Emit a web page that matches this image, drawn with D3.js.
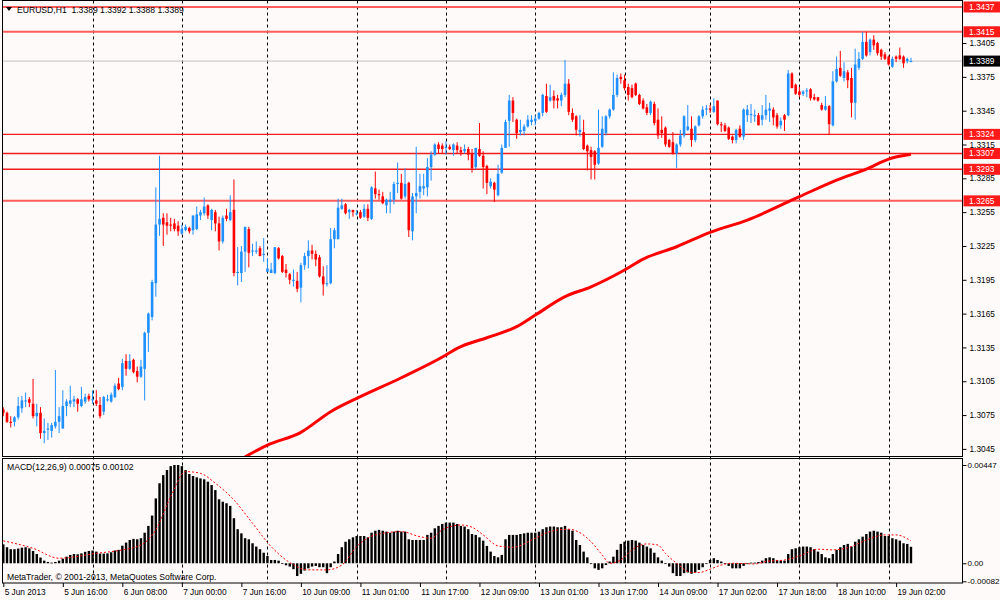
<!doctype html>
<html>
<head>
<meta charset="utf-8">
<script src="https://cdn.jsdelivr.net/npm/d3@7/dist/d3.min.js"></script>
<style>
  body { margin: 0; background: #fffafa; }
  svg { display: block; font-family: "Liberation Sans", Arial, sans-serif; }
</style>
</head>
<body>
<svg width="1000" height="600"></svg>
<script>
// EURUSD H1, bar 0 = 5 Jun 2013 00:00
var opens = [
  1.3080,1.3077,1.3069,1.3069,1.3073,1.3081,1.3087,1.3089,1.3085,1.3074,
  1.3077,1.3059,1.3062,1.3061,1.3065,1.3069,1.3063,1.3083,1.3085,1.3087,
  1.3089,1.3083,1.3087,1.3092,1.3088,1.3088,1.3084,1.3078,1.3088,1.3087,
  1.3091,1.3103,1.3100,1.3123,1.3116,1.3124,1.3114,1.3109,1.3116,1.3148,
  1.3162,1.3192,1.3244,1.3250,1.3246,1.3244,1.3245,1.3243,1.3236,1.3239,
  1.3241,1.3239,1.3240,1.3252,1.3254,1.3261,1.3248,1.3255,1.3245,1.3229,
  1.3252,1.3248,1.3257,1.3201,1.3201,1.3220,1.3240,1.3220,1.3220,1.3223,
  1.3217,1.3202,1.3201,1.3201,1.3223,1.3216,1.3204,1.3200,1.3194,1.3194,
  1.3188,1.3208,1.3216,1.3221,1.3218,1.3215,1.3198,1.3191,1.3192,1.3231,
  1.3231,1.3258,1.3262,1.3255,1.3257,1.3253,1.3255,1.3251,1.3258,1.3249,
  1.3276,1.3271,1.3269,1.3261,1.3264,1.3266,1.3280,1.3281,1.3269,1.3281,
  1.3238,1.3269,1.3273,1.3276,1.3277,1.3295,1.3306,1.3315,1.3314,1.3312,
  1.3313,1.3310,1.3314,1.3310,1.3309,1.3311,1.3307,1.3295,1.3311,1.3305,
  1.3296,1.3278,1.3281,1.3270,1.3290,1.3312,1.3336,1.3354,1.3337,1.3326,
  1.3327,1.3331,1.3335,1.3336,1.3338,1.3343,1.3358,1.3354,1.3358,1.3356,
  1.3354,1.3359,1.3369,1.3343,1.3340,1.3326,1.3326,1.3314,1.3310,1.3309,
  1.3298,1.3313,1.3325,1.3340,1.3346,1.3359,1.3375,1.3372,1.3366,1.3365,
  1.3369,1.3359,1.3354,1.3348,1.3343,1.3351,1.3337,1.3328,1.3330,1.3319,
  1.3317,1.3307,1.3315,1.3323,1.3328,1.3329,1.3319,1.3332,1.3340,1.3346,
  1.3347,1.3344,1.3354,1.3333,1.3332,1.3330,1.3322,1.3319,1.3329,1.3322,
  1.3341,1.3341,1.3340,1.3341,1.3337,1.3341,1.3345,1.3346,1.3341,1.3332,
  1.3341,1.3341,1.3378,1.3368,1.3362,1.3360,1.3362,1.3364,1.3357,1.3357,
  1.3350,1.3346,1.3349,1.3332,1.3371,1.3383,1.3374,1.3379,1.3374,1.3352,
  1.3383,1.3391,1.3406,1.3397,1.3408,1.3405,1.3399,1.3395,1.3393,1.3384,
  1.3393,1.3394,1.3393,1.3389,1.3389
];
var highs = [
  1.3082,1.3078,1.3074,1.3074,1.3091,1.3092,1.3095,1.3091,1.3107,1.3085,
  1.3082,1.3072,1.3068,1.3068,1.3115,1.3082,1.3097,1.3089,1.3101,1.3092,
  1.3090,1.3100,1.3094,1.3094,1.3097,1.3097,1.3091,1.3092,1.3093,1.3095,
  1.3103,1.3108,1.3125,1.3129,1.3129,1.3125,1.3118,1.3124,1.3149,1.3166,
  1.3195,1.3277,1.3305,1.3254,1.3254,1.3250,1.3249,1.3247,1.3244,1.3244,
  1.3242,1.3252,1.3260,1.3257,1.3268,1.3262,1.3258,1.3257,1.3251,1.3252,
  1.3258,1.3270,1.3284,1.3224,1.3225,1.3242,1.3242,1.3227,1.3229,1.3225,
  1.3232,1.3214,1.3210,1.3224,1.3224,1.3217,1.3209,1.3201,1.3204,1.3202,
  1.3210,1.3219,1.3230,1.3226,1.3221,1.3217,1.3207,1.3208,1.3241,1.3241,
  1.3267,1.3267,1.3263,1.3258,1.3257,1.3257,1.3257,1.3262,1.3262,1.3278,
  1.3291,1.3275,1.3273,1.3267,1.3273,1.3282,1.3299,1.3289,1.3294,1.3282,
  1.3272,1.3313,1.3289,1.3289,1.3303,1.3309,1.3316,1.3317,1.3316,1.3318,
  1.3315,1.3316,1.3317,1.3313,1.3315,1.3313,1.3311,1.3312,1.3334,1.3309,
  1.3297,1.3285,1.3282,1.3297,1.3315,1.3337,1.3359,1.3357,1.3338,1.3337,
  1.3333,1.3341,1.3341,1.3341,1.3344,1.3360,1.3369,1.3368,1.3363,1.3359,
  1.3361,1.3390,1.3373,1.3347,1.3341,1.3341,1.3337,1.3315,1.3313,1.3310,
  1.3346,1.3340,1.3341,1.3347,1.3379,1.3377,1.3378,1.3377,1.3369,1.3368,
  1.3370,1.3360,1.3356,1.3351,1.3354,1.3353,1.3347,1.3340,1.3331,1.3320,
  1.3326,1.3316,1.3328,1.3341,1.3350,1.3340,1.3332,1.3341,1.3349,1.3350,
  1.3350,1.3356,1.3354,1.3335,1.3334,1.3331,1.3323,1.3329,1.3332,1.3347,
  1.3350,1.3351,1.3346,1.3343,1.3350,1.3359,1.3352,1.3348,1.3343,1.3339,
  1.3342,1.3381,1.3379,1.3369,1.3366,1.3363,1.3365,1.3365,1.3360,1.3357,
  1.3352,1.3358,1.3350,1.3380,1.3393,1.3398,1.3388,1.3381,1.3383,1.3400,
  1.3397,1.3415,1.3415,1.3409,1.3412,1.3406,1.3400,1.3397,1.3394,1.3393,
  1.3394,1.3401,1.3394,1.3392,1.3392
];
var lows = [
  1.3074,1.3068,1.3064,1.3065,1.3071,1.3077,1.3082,1.3082,1.3072,1.3065,
  1.3054,1.3050,1.3053,1.3055,1.3063,1.3059,1.3063,1.3074,1.3082,1.3082,
  1.3078,1.3082,1.3085,1.3087,1.3085,1.3083,1.3072,1.3075,1.3087,1.3086,
  1.3090,1.3097,1.3097,1.3110,1.3115,1.3112,1.3104,1.3108,1.3088,1.3131,
  1.3159,1.3180,1.3234,1.3225,1.3235,1.3238,1.3238,1.3234,1.3235,1.3238,
  1.3236,1.3235,1.3239,1.3248,1.3252,1.3249,1.3239,1.3238,1.3221,1.3227,
  1.3247,1.3247,1.3198,1.3190,1.3193,1.3202,1.3206,1.3216,1.3218,1.3216,
  1.3211,1.3202,1.3201,1.3200,1.3213,1.3201,1.3197,1.3191,1.3189,1.3184,
  1.3175,1.3204,1.3205,1.3213,1.3207,1.3197,1.3181,1.3189,1.3191,1.3223,
  1.3231,1.3257,1.3253,1.3249,1.3251,1.3252,1.3249,1.3250,1.3247,1.3248,
  1.3267,1.3266,1.3262,1.3254,1.3254,1.3262,1.3272,1.3266,1.3267,1.3233,
  1.3230,1.3254,1.3267,1.3270,1.3269,1.3283,1.3305,1.3307,1.3307,1.3306,
  1.3310,1.3305,1.3307,1.3305,1.3307,1.3301,1.3290,1.3293,1.3304,1.3276,
  1.3271,1.3276,1.3264,1.3269,1.3289,1.3312,1.3313,1.3335,1.3320,1.3323,
  1.3323,1.3330,1.3332,1.3332,1.3337,1.3340,1.3343,1.3353,1.3347,1.3347,
  1.3349,1.3357,1.3341,1.3335,1.3323,1.3322,1.3310,1.3292,1.3284,1.3284,
  1.3297,1.3312,1.3323,1.3338,1.3345,1.3357,1.3369,1.3363,1.3354,1.3356,
  1.3358,1.3350,1.3346,1.3341,1.3341,1.3332,1.3320,1.3321,1.3313,1.3312,
  1.3306,1.3294,1.3313,1.3321,1.3327,1.3313,1.3317,1.3331,1.3338,1.3341,
  1.3343,1.3343,1.3332,1.3326,1.3326,1.3319,1.3316,1.3316,1.3321,1.3319,
  1.3335,1.3334,1.3335,1.3332,1.3332,1.3337,1.3335,1.3332,1.3329,1.3329,
  1.3327,1.3340,1.3365,1.3359,1.3357,1.3358,1.3357,1.3354,1.3354,1.3353,
  1.3345,1.3345,1.3324,1.3331,1.3370,1.3375,1.3371,1.3365,1.3339,1.3337,
  1.3381,1.3390,1.3393,1.3394,1.3399,1.3394,1.3390,1.3390,1.3385,1.3383,
  1.3388,1.3390,1.3383,1.3387,1.3388
];
var closes = [
  1.3077,1.3069,1.3068,1.3073,1.3083,1.3088,1.3088,1.3086,1.3074,1.3077,
  1.3059,1.3061,1.3063,1.3066,1.3069,1.3074,1.3083,1.3087,1.3088,1.3089,
  1.3085,1.3089,1.3091,1.3089,1.3089,1.3085,1.3074,1.3091,1.3089,1.3093,
  1.3101,1.3098,1.3121,1.3116,1.3123,1.3113,1.3109,1.3118,1.3148,1.3165,
  1.3193,1.3244,1.3249,1.3244,1.3243,1.3243,1.3240,1.3238,1.3240,1.3242,
  1.3238,1.3252,1.3253,1.3255,1.3260,1.3252,1.3257,1.3245,1.3229,1.3250,
  1.3249,1.3255,1.3201,1.3202,1.3220,1.3242,1.3219,1.3221,1.3221,1.3216,
  1.3218,1.3205,1.3204,1.3224,1.3214,1.3202,1.3201,1.3195,1.3195,1.3187,
  1.3208,1.3216,1.3221,1.3218,1.3213,1.3198,1.3191,1.3192,1.3231,1.3239,
  1.3259,1.3261,1.3254,1.3257,1.3255,1.3254,1.3250,1.3258,1.3250,1.3277,
  1.3271,1.3270,1.3263,1.3266,1.3266,1.3280,1.3281,1.3267,1.3280,1.3239,
  1.3269,1.3272,1.3278,1.3278,1.3295,1.3306,1.3315,1.3311,1.3311,1.3313,
  1.3311,1.3315,1.3310,1.3308,1.3311,1.3306,1.3294,1.3312,1.3305,1.3295,
  1.3281,1.3282,1.3275,1.3289,1.3312,1.3335,1.3354,1.3343,1.3325,1.3328,
  1.3331,1.3337,1.3337,1.3338,1.3343,1.3359,1.3344,1.3357,1.3354,1.3354,
  1.3359,1.3369,1.3344,1.3337,1.3328,1.3328,1.3311,1.3309,1.3304,1.3297,
  1.3312,1.3329,1.3340,1.3346,1.3359,1.3374,1.3373,1.3365,1.3359,1.3357,
  1.3359,1.3351,1.3347,1.3343,1.3353,1.3334,1.3323,1.3325,1.3315,1.3313,
  1.3307,1.3315,1.3323,1.3340,1.3331,1.3319,1.3331,1.3340,1.3346,1.3347,
  1.3346,1.3349,1.3333,1.3332,1.3327,1.3320,1.3319,1.3328,1.3322,1.3346,
  1.3346,1.3342,1.3341,1.3332,1.3341,1.3346,1.3347,1.3339,1.3331,1.3336,
  1.3337,1.3378,1.3365,1.3360,1.3359,1.3362,1.3363,1.3356,1.3355,1.3354,
  1.3346,1.3349,1.3333,1.3371,1.3382,1.3376,1.3380,1.3372,1.3352,1.3386,
  1.3391,1.3406,1.3394,1.3408,1.3403,1.3396,1.3393,1.3391,1.3386,1.3391,
  1.3391,1.3391,1.3387,1.3391,1.3389
];

// MACD(12,26,9) main histogram, one value per bar
var macdHist = [
  0.00086,0.00073,0.00064,0.00064,0.00067,0.00071,0.00073,0.00068,0.00056,0.00042,
  0.00026,0.00012,0.00006,0.00003,0.00006,0.00012,0.00021,0.00030,0.00038,0.00042,
  0.00041,0.00045,0.00052,0.00056,0.00058,0.00053,0.00044,0.00044,0.00045,0.00050,
  0.00058,0.00061,0.00080,0.00094,0.00106,0.00111,0.00109,0.00114,0.00139,0.00170,
  0.00217,0.00295,0.00364,0.00401,0.00424,0.00442,0.00447,0.00447,0.00442,0.00424,
  0.00406,0.00397,0.00391,0.00386,0.00382,0.00371,0.00356,0.00333,0.00291,0.00280,
  0.00273,0.00261,0.00205,0.00155,0.00136,0.00114,0.00109,0.00091,0.00076,0.00064,
  0.00048,0.00033,0.00015,0.00015,0.00012,-0.00003,-0.00009,-0.00015,-0.00027,-0.00058,
  -0.00048,-0.00033,-0.00023,-0.00015,-0.00012,-0.00018,-0.00018,-0.00045,-0.00018,0.00008,
  0.00042,0.00073,0.00098,0.00109,0.00118,0.00124,0.00124,0.00124,0.00118,0.00139,
  0.00148,0.00152,0.00148,0.00144,0.00139,0.00144,0.00148,0.00144,0.00144,0.00109,
  0.00106,0.00106,0.00106,0.00106,0.00129,0.00139,0.00159,0.00170,0.00179,0.00185,
  0.00185,0.00185,0.00179,0.00170,0.00167,0.00155,0.00133,0.00129,0.00118,0.00103,
  0.00079,0.00053,0.00033,0.00027,0.00038,0.00109,0.00129,0.00129,0.00129,0.00133,
  0.00136,0.00139,0.00139,0.00139,0.00144,0.00155,0.00164,0.00167,0.00167,0.00164,
  0.00164,0.00170,0.00155,0.00148,0.00106,0.00083,0.00053,0.00027,0.00000,-0.00023,
  -0.00030,-0.00023,-0.00008,0.00008,0.00030,0.00061,0.00088,0.00098,0.00103,0.00106,
  0.00103,0.00094,0.00083,0.00076,0.00068,0.00048,0.00027,0.00012,-0.00003,-0.00015,
  -0.00045,-0.00058,-0.00058,-0.00045,-0.00042,-0.00048,-0.00042,-0.00030,-0.00018,-0.00003,
  0.00015,0.00023,0.00015,0.00008,0.00000,-0.00012,-0.00023,-0.00023,-0.00023,-0.00012,
  -0.00003,0.00003,0.00003,0.00006,0.00012,0.00023,0.00027,0.00023,0.00015,0.00012,
  0.00012,0.00042,0.00064,0.00068,0.00073,0.00076,0.00076,0.00073,0.00064,0.00053,
  0.00042,0.00027,0.00023,0.00042,0.00061,0.00073,0.00083,0.00088,0.00076,0.00098,
  0.00109,0.00121,0.00133,0.00144,0.00148,0.00144,0.00139,0.00124,0.00124,0.00114,
  0.00109,0.00103,0.00091,0.00088,0.00075
];
// signal line read at selected bars
var signalBars = [0,8,15,25,32,37,41,45,49,53,57,62,67,72,76,82,87,91,95,100,
  107,112,115,118,123,126,129,133,137,143,147,152,155,158,161,163,166,169,173,176,
  178,181,185,187,190,193,196,202,205,210,214,219,223,228,232,237,240,244];
var signalValues = [0.00102,0.00068,0.00023,0.00045,0.00061,0.00083,0.00152,0.00303,0.00417,0.00409,
  0.00364,0.00288,0.00182,0.00076,0.00015,-0.00030,-0.00030,-0.00008,0.00076,0.00129,
  0.00144,0.00121,0.00114,0.00152,0.00174,0.00164,0.00129,0.00079,0.00073,0.00114,
  0.00144,0.00155,0.00139,0.00098,0.00038,0.00000,0.00015,0.00061,0.00088,0.00083,
  0.00045,0.00000,-0.00042,-0.00042,-0.00027,-0.00008,0.00000,-0.00003,0.00008,0.00015,
  0.00033,0.00064,0.00061,0.00076,0.00106,0.00129,0.00129,0.00102];

// moving average (thick red line) read at selected bars
var maBars = [65,71,80,88,95,107,119,122,130,138,143,151,158,167,172,181,190,200,214,224,232,238,244];
var maValues = [1.30380,1.30484,1.30597,1.30780,1.30898,1.31081,1.31283,1.31342,1.31436,1.31534,
  1.31637,1.31800,1.31888,1.32037,1.32134,1.32243,1.32371,1.32480,1.32687,1.32835,
  1.32932,1.33021,1.33063];

var levels = [1.3437, 1.3415, 1.3324, 1.3307, 1.3293, 1.3265];
var priceTicks = [1.3405,1.3375,1.3345,1.3315,1.3285,1.3255,1.3225,1.3195,1.3165,1.3135,1.3105,1.3075,1.3045];
var lastPrice = 1.3389;
var dayStartBars = [24,48,71,95,119,143,167,190,214,238];
var timeLabelBars = [0,16,32,48,64,80,96,112,128,144,160,176,192,208,224,240];
var timeLabels = ["5 Jun 2013","5 Jun 16:00","6 Jun 08:00","7 Jun 00:00","7 Jun 16:00","10 Jun 09:00",
  "11 Jun 01:00","11 Jun 17:00","12 Jun 09:00","13 Jun 01:00","13 Jun 17:00","14 Jun 09:00",
  "17 Jun 02:00","17 Jun 18:00","18 Jun 10:00","19 Jun 02:00"];
var macdTicks = [0.00447, 0, -0.00082];
var macdTickLabels = ["0.00447", "0.00", "-0.00082"];

var svg = d3.select("svg");
var left = 2.5, right = 962.5;
var mainTop = 0.5, mainBottom = 456.5, macdTop = 458.5, macdBottom = 583;
var bull = "#1e90ff", bear = "#ff0000";
var fs = "8.3px";

var x = d3.scaleLinear().domain([0, 244]).range([3.3, 3.3 + 3.72 * 244]);
var y = d3.scaleLinear().domain([1.30378, 1.34423]).range([457, 1]);
var yM = d3.scaleLinear().domain([-0.00082, 0.00447]).range([581.3, 465]);

svg.append("rect").attr("width", 1000).attr("height", 600).attr("fill", "#fffafa");

var defs = svg.append("defs");
defs.append("clipPath").attr("id", "clipMain").append("rect")
  .attr("x", left).attr("y", mainTop).attr("width", right - left).attr("height", mainBottom - mainTop);
defs.append("clipPath").attr("id", "clipMacd").append("rect")
  .attr("x", left).attr("y", macdTop).attr("width", right - left).attr("height", macdBottom - macdTop);

// vertical dashed grid at each day start
svg.append("g").selectAll("line").data(dayStartBars).enter().append("line")
  .attr("x1", d => Math.round(x(d)) + 0.5).attr("x2", d => Math.round(x(d)) + 0.5)
  .attr("y1", mainTop).attr("y2", macdBottom)
  .attr("stroke", "#000").attr("stroke-width", 1).attr("stroke-dasharray", "3,3");

var main = svg.append("g").attr("clip-path", "url(#clipMain)");

// current price line
main.append("line")
  .attr("x1", left).attr("x2", right)
  .attr("y1", y(lastPrice)).attr("y2", y(lastPrice))
  .attr("stroke", "#c0c0c0").attr("stroke-width", 1);

// horizontal levels
main.selectAll(".lvl").data(levels).enter().append("line")
  .attr("x1", left).attr("x2", right)
  .attr("y1", d => y(d)).attr("y2", d => y(d))
  .attr("stroke", (d, i) => (i === 0 || i === 1 || i === 5) ? "#ff5c5c" : "#ee1c1c")
  .attr("stroke-width", (d, i) => (i === 0 || i === 1 || i === 5) ? 2 : 1.4);

// moving average
var maLine = d3.line()
  .x((d, i) => x(maBars[i]))
  .y(d => y(d))
  .curve(d3.curveMonotoneX);
main.append("path").datum(maValues)
  .attr("d", maLine)
  .attr("fill", "none").attr("stroke", "#ff0000").attr("stroke-width", 3);

// candles
var idx = d3.range(opens.length);
var candles = main.append("g").selectAll("g").data(idx).enter().append("g");
candles.append("line")
  .attr("x1", i => x(i)).attr("x2", i => x(i))
  .attr("y1", i => y(highs[i])).attr("y2", i => y(lows[i]))
  .attr("stroke", i => closes[i] >= opens[i] ? bull : bear).attr("stroke-width", 1);
candles.append("rect")
  .attr("x", i => x(i) - 1.3).attr("width", 2.6)
  .attr("y", i => y(Math.max(opens[i], closes[i])))
  .attr("height", i => Math.max(1, Math.abs(y(opens[i]) - y(closes[i]))))
  .attr("fill", i => closes[i] >= opens[i] ? bull : bear);

// MACD panel
var macd = svg.append("g").attr("clip-path", "url(#clipMacd)");
macd.selectAll("rect").data(macdHist).enter().append("rect")
  .attr("x", (d, i) => x(i) - 1.2).attr("width", 2.4)
  .attr("y", d => Math.min(yM(d), yM(0)))
  .attr("height", d => Math.max(0.8, Math.abs(yM(d) - yM(0))))
  .attr("fill", "#000");
var sigLine = d3.line()
  .x((d, i) => x(signalBars[i]))
  .y(d => yM(d))
  .curve(d3.curveMonotoneX);
macd.append("path").datum(signalValues)
  .attr("d", sigLine)
  .attr("fill", "none").attr("stroke", "#ff0000").attr("stroke-width", 1)
  .attr("stroke-dasharray", "2,2");

// panel frames
svg.append("rect").attr("x", left).attr("y", mainTop)
  .attr("width", right - left).attr("height", mainBottom - mainTop)
  .attr("fill", "none").attr("stroke", "#000").attr("stroke-width", 1);
svg.append("rect").attr("x", left).attr("y", macdTop)
  .attr("width", right - left).attr("height", macdBottom - macdTop)
  .attr("fill", "none").attr("stroke", "#000").attr("stroke-width", 1);

// price axis
var yAxis = svg.append("g").attr("transform", "translate(" + right + ",0)")
  .call(d3.axisRight(y).tickValues(priceTicks).tickSize(4).tickPadding(3)
    .tickFormat(d3.format(".4f")));
yAxis.select(".domain").remove();
yAxis.selectAll("text").style("font-size", fs).attr("fill", "#000");

// level and price tags
var tags = levels.map(d => ({v: d, fill: "#ff1a1a"})).concat([{v: lastPrice, fill: "#000"}]);
var tag = svg.append("g").selectAll("g").data(tags).enter().append("g")
  .attr("transform", d => "translate(" + (right + 1) + "," + y(d.v) + ")");
tag.append("rect").attr("x", 0).attr("y", -5.5).attr("width", 37).attr("height", 11).attr("fill", d => d.fill);
tag.append("text").attr("x", 5.5).attr("dy", "0.34em").attr("fill", "#fff")
  .style("font-size", fs).text(d => d3.format(".4f")(d.v));

// MACD axis
var mAxis = svg.append("g").attr("transform", "translate(" + right + ",0)")
  .call(d3.axisRight(yM).tickValues(macdTicks).tickSize(4).tickPadding(1)
    .tickFormat((d, i) => macdTickLabels[i]));
mAxis.select(".domain").remove();
mAxis.selectAll("text").style("font-size", "8.1px").attr("fill", "#000");

// time axis
var xAxis = svg.append("g").attr("transform", "translate(0," + macdBottom + ")")
  .call(d3.axisBottom(x).tickValues(timeLabelBars).tickSize(4).tickPadding(2)
    .tickFormat((d, i) => timeLabels[i]));
xAxis.select(".domain").remove();
xAxis.selectAll("text").attr("text-anchor", "start").attr("dx", "0.1em")
  .style("font-size", fs).attr("fill", "#000");

// header and captions
svg.append("path").attr("d", "M6,7 L12,7 L9,11 Z").attr("fill", "#000");
svg.append("text").attr("x", 17).attr("y", 13).style("font-size", "8.6px")
  .attr("xml:space", "preserve").text("EURUSD,H1  1.3389 1.3392 1.3388 1.3389");
svg.append("text").attr("x", 7).attr("y", 470).style("font-size", "8.6px")
  .text("MACD(12,26,9) 0.00075 0.00102");
svg.append("text").attr("x", 7).attr("y", 580).style("font-size", "8.6px")
  .text("MetaTrader, © 2001-2013, MetaQuotes Software Corp.");
</script>
</body>
</html>
